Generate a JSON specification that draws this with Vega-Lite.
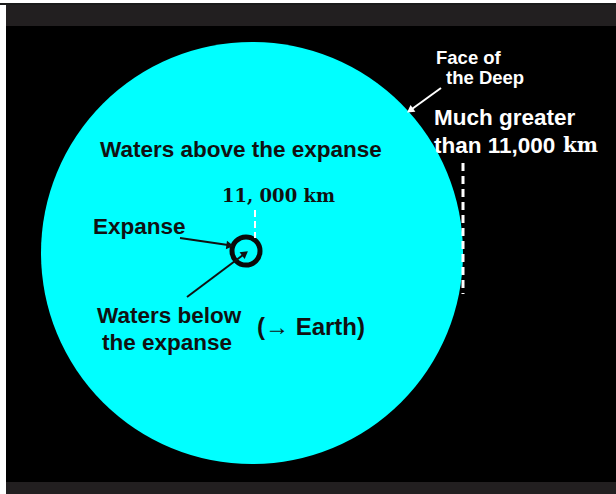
{
  "$schema": "https://vega.github.io/schema/vega-lite/v6.json",
  "width": 616,
  "height": 494,
  "padding": 0,
  "autosize": {"type": "fit", "contains": "padding"},
  "background": "white",
  "config": {"view": {"stroke": null}},
  "datasets": {
    "frameLine": [{"x": 0, "x2": 616, "y": 3, "y2": 5}],
    "grayBands": [{"x": 6, "x2": 616, "y": 5, "y2": 26}, {"x": 6, "x2": 616, "y": 482, "y2": 494}],
    "panel": [{"x": 6, "x2": 616, "y": 26, "y2": 482}],
    "deep": [{"x": 252, "y": 253}],
    "expanse": [{"x": 246, "y": 251}],
    "darkText": [
      {"x": 100, "y": 150, "label": "Waters above the expanse"},
      {"x": 93, "y": 227, "label": "Expanse"},
      {"x": 97, "y": 316, "label": "Waters below"},
      {"x": 102, "y": 343, "label": "the expanse"}
    ],
    "earthText": [{"x": 257, "y": 328, "label": "(→ Earth)"}],
    "serifDark": [{"x": 222, "y": 197, "label": "11, 000 km"}],
    "faceText": [
      {"x": 436, "y": 58, "label": "Face of"},
      {"x": 446, "y": 78, "label": "the Deep"}
    ],
    "muchText": [
      {"x": 434, "y": 118, "label": "Much greater"},
      {"x": 434, "y": 146, "label": "than 11,000"}
    ],
    "serifWhite": [{"x": 563, "y": 146, "label": "km"}],
    "darkArrows": [
      {"x": 180, "y": 238, "x2": 228, "y2": 245},
      {"x": 187, "y": 297, "x2": 243, "y2": 255}
    ],
    "whiteArrow": [{"x": 441, "y": 88, "x2": 412, "y2": 109}],
    "smallDash": [{"x": 255, "y": 210, "x2": 255, "y2": 238}],
    "bigDash": [{"x": 463, "y": 163, "x2": 463, "y2": 294}],
    "head1": [{"x": 230, "y": 245.5}],
    "head2": [{"x": 245, "y": 253.5}],
    "head3": [{"x": 410, "y": 110.5}]
  },
  "encoding": {
    "x": {"field": "x", "type": "quantitative", "scale": {"domain": [0, 616], "nice": false, "zero": false}, "axis": null},
    "y": {"field": "y", "type": "quantitative", "scale": {"domain": [0, 494], "nice": false, "zero": false, "reverse": true}, "axis": null}
  },
  "layer": [
    {"data": {"name": "frameLine"}, "mark": {"type": "rect", "color": "#1a1a1a"}, "encoding": {"x2": {"field": "x2"}, "y2": {"field": "y2"}}},
    {"data": {"name": "grayBands"}, "mark": {"type": "rect", "color": "#221f20"}, "encoding": {"x2": {"field": "x2"}, "y2": {"field": "y2"}}},
    {"data": {"name": "panel"}, "mark": {"type": "rect", "color": "#000000"}, "encoding": {"x2": {"field": "x2"}, "y2": {"field": "y2"}}},
    {"data": {"name": "deep"}, "mark": {"type": "point", "shape": "circle", "filled": true, "color": "#00ffff", "opacity": 1, "size": 178084}},
    {"data": {"name": "expanse"}, "mark": {"type": "point", "shape": "circle", "filled": false, "color": "#0a0a0a", "opacity": 1, "strokeWidth": 5, "size": 784}},
    {"data": {"name": "darkArrows"}, "mark": {"type": "rule", "color": "#111111", "strokeWidth": 2}, "encoding": {"x2": {"field": "x2"}, "y2": {"field": "y2"}}},
    {"data": {"name": "head1"}, "mark": {"type": "point", "shape": "triangle-up", "filled": true, "color": "#111111", "opacity": 1, "size": 70, "angle": 98}},
    {"data": {"name": "head2"}, "mark": {"type": "point", "shape": "triangle-up", "filled": true, "color": "#111111", "opacity": 1, "size": 70, "angle": 53}},
    {"data": {"name": "whiteArrow"}, "mark": {"type": "rule", "color": "#ffffff", "strokeWidth": 2}, "encoding": {"x2": {"field": "x2"}, "y2": {"field": "y2"}}},
    {"data": {"name": "head3"}, "mark": {"type": "point", "shape": "triangle-up", "filled": true, "color": "#ffffff", "opacity": 1, "size": 70, "angle": 235}},
    {"data": {"name": "smallDash"}, "mark": {"type": "rule", "color": "#ffffff", "strokeWidth": 2, "strokeDash": [7, 4]}, "encoding": {"x2": {"field": "x2"}, "y2": {"field": "y2"}}},
    {"data": {"name": "bigDash"}, "mark": {"type": "rule", "color": "#ffffff", "strokeWidth": 3, "strokeDash": [8, 5]}, "encoding": {"x2": {"field": "x2"}, "y2": {"field": "y2"}}},
    {"data": {"name": "darkText"}, "mark": {"type": "text", "font": "Liberation Sans", "fontWeight": "bold", "fontSize": 22.5, "color": "#111111", "align": "left", "baseline": "middle"}, "encoding": {"text": {"field": "label"}}},
    {"data": {"name": "earthText"}, "mark": {"type": "text", "font": "Liberation Sans", "fontWeight": "bold", "fontSize": 24, "color": "#111111", "align": "left", "baseline": "middle"}, "encoding": {"text": {"field": "label"}}},
    {"data": {"name": "serifDark"}, "mark": {"type": "text", "font": "DejaVu Serif", "fontWeight": "bold", "fontSize": 18, "color": "#111111", "align": "left", "baseline": "middle"}, "encoding": {"text": {"field": "label"}}},
    {"data": {"name": "faceText"}, "mark": {"type": "text", "font": "Liberation Sans", "fontWeight": "bold", "fontSize": 18.5, "color": "#ffffff", "align": "left", "baseline": "middle"}, "encoding": {"text": {"field": "label"}}},
    {"data": {"name": "muchText"}, "mark": {"type": "text", "font": "Liberation Sans", "fontWeight": "bold", "fontSize": 22.5, "color": "#ffffff", "align": "left", "baseline": "middle"}, "encoding": {"text": {"field": "label"}}},
    {"data": {"name": "serifWhite"}, "mark": {"type": "text", "font": "DejaVu Serif", "fontWeight": "bold", "fontSize": 20, "color": "#ffffff", "align": "left", "baseline": "middle"}, "encoding": {"text": {"field": "label"}}}
  ]
}
